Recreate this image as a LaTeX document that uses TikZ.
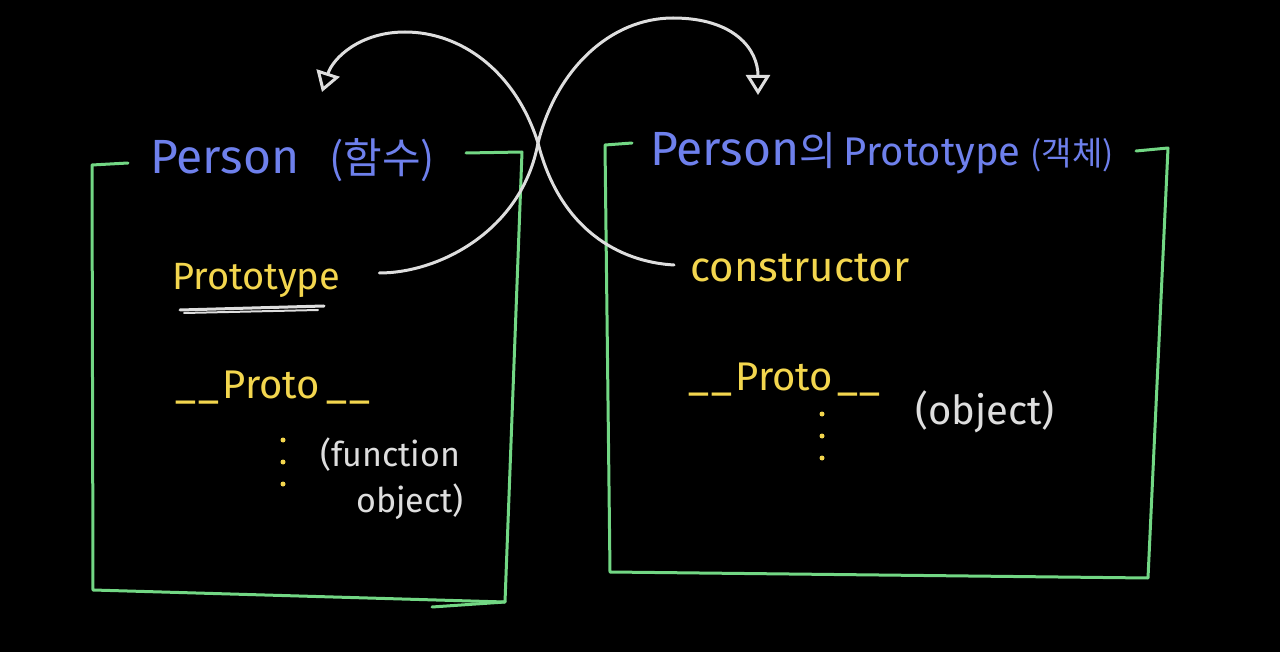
\documentclass[tikz,border=0pt]{standalone}
\usepackage{fontspec}
\setmainfont{Fira Sans}
\newfontfamily\korfont{Noto Sans CJK KR}
\usetikzlibrary{arrows.meta}
\definecolor{boxgreen}{HTML}{72D784}
\definecolor{titleblue}{HTML}{6E80EC}
\definecolor{keyyellow}{HTML}{F3D64E}
\definecolor{notegray}{HTML}{DEDEDE}
\begin{document}
\begin{tikzpicture}[x=1pt,y=-1pt,
  frame/.style={draw=boxgreen, line width=3pt, line join=round, line cap=round},
  title/.style={text=titleblue, anchor=base west, inner sep=0pt, font=\fontsize{48}{56}\selectfont},
  key/.style={text=keyyellow, anchor=base west, inner sep=0pt, font=\fontsize{38}{44}\selectfont},
  note/.style={text=notegray, anchor=base west, inner sep=0pt, align=left, font=\fontsize{34}{44}\selectfont},
  link/.style={draw=notegray, line width=3pt, line cap=round, -{Triangle[open, length=20pt, width=24pt, line width=3pt]}}]
\useasboundingbox (0,0) rectangle (1280,652);
\fill[black] (0,0) rectangle (1280,652);

% function box
\draw[frame] (128,163) -- (92,165) -- (93,590) -- (505,602) -- (522,152) -- (466,153);
\draw[frame] (505,602) -- (432,607);
\node[title] (ltitle) at (150,174) {Person\hspace{30pt}{\korfont\fontsize{42}{48}\selectfont(함수)}};

\node[key] (lproto) at (172,290) {Prototype};
\draw[notegray, line width=3pt, line cap=round] (180,310) -- (324,306);
\draw[notegray, line width=2pt, line cap=round] (184,313) -- (318,310);
\node[key, font=\fontsize{40}{44}\selectfont] (lunder) at (175,398) {\_\hspace{2pt}\_\hspace{4pt}Proto\hspace{6pt}\_\hspace{3pt}\_};
\foreach \d in {0,1,2}
  \fill[keyyellow] (283,440+\d*22) circle (2.5);
\node[note] (lnote) at (320,512) {(function\\[2pt]\hspace{36pt}object)};

% prototype object box
\draw[frame] (632,143) -- (605,145) -- (610,572) -- (1148,578) -- (1168,148) -- (1136,151);
\node[title] (rtitle) at (650,166) {Person{\korfont\fontsize{40}{44}\selectfont 의}\hspace{8pt}{\fontsize{40}{44}\selectfont Prototype}\hspace{10pt}{\korfont\fontsize{33}{40}\selectfont(객체)}};

\node[key, font=\fontsize{42}{48}\selectfont] (ctor) at (690,282) {constructor};
\node[key, font=\fontsize{40}{44}\selectfont] (runder) at (688,390) {\_\hspace{2pt}\_\hspace{4pt}Proto\hspace{4pt}\_\hspace{2pt}\_};
\foreach \d in {0,1,2}
  \fill[keyyellow] (822,414+\d*22) circle (2.5);
\node[note, font=\fontsize{40}{44}\selectfont] (rnote) at (915,424) {(object)};

% links
\coordinate (cross) at (538,143);
\coordinate (rtip) at (758,95);
\coordinate (ltip) at (322,92);
\draw[link] ([xshift=39pt,yshift=17pt]lproto.base east) .. controls (440,273) and (522,230) .. (cross)
  .. controls (556,70) and (610,18) .. (673,18) .. controls (735,18) and (758,50) .. (rtip);
\draw[link] ([xshift=-16pt,yshift=17pt]ctor.base west) .. controls (620,262) and (560,230) .. (cross)
  .. controls (515,70) and (460,32) .. (405,32) .. controls (360,32) and (333,58) .. (ltip);
\end{tikzpicture}
\end{document}
